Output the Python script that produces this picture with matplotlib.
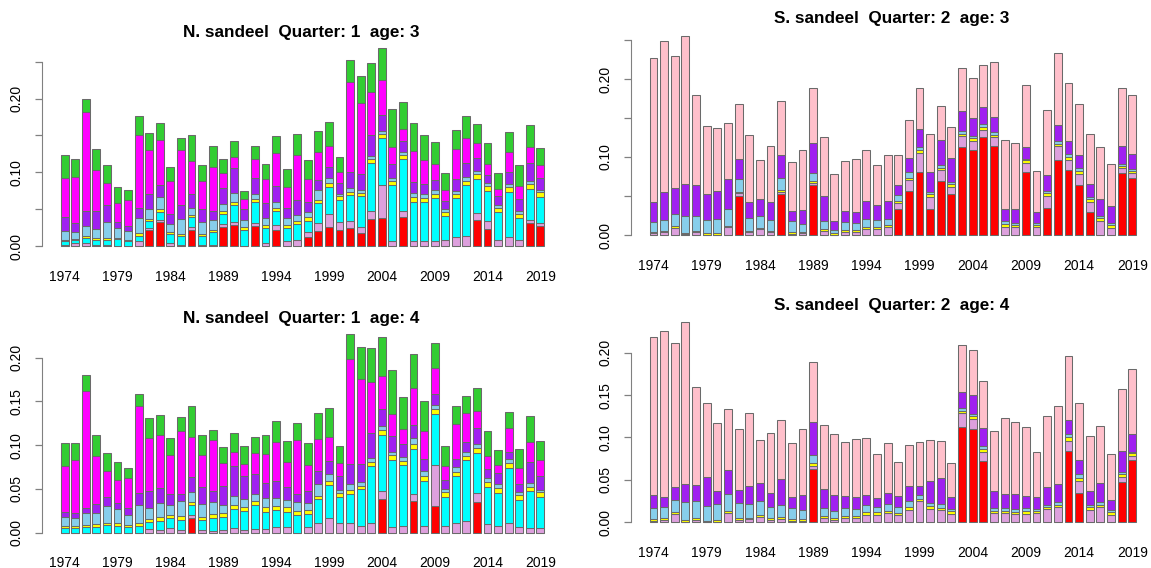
import matplotlib
matplotlib.use("Agg")
import matplotlib.pyplot as plt
import numpy as np

plt.rcParams["font.family"] = ["Liberation Sans", "DejaVu Sans"]

years = list(range(1974, 2020))
label_years = [1974, 1979, 1984, 1989, 1994, 1999, 2004, 2009, 2014, 2019]

# N. sandeel, quarter 1, age 3
n3_red = [0, 0, 0, 0, 0, 0, 0, 0, 0.0217, 0.0325, 0, 0, 0.0217, 0, 0, 0.026, 0.0285, 0, 0.027, 0, 0.0217, 0,
          0, 0.0127, 0.020, 0.0253, 0.0217, 0.024, 0.018, 0.036, 0.0375, 0, 0.040, 0, 0, 0, 0, 0, 0, 0.0348,
          0.0235, 0, 0, 0, 0.0307, 0.0267]
n3_plum = [0.002, 0.0036, 0.0036, 0.0014, 0.002, 0, 0, 0.0063, 0.003, 0.0027, 0.0045, 0.002, 0.0036, 0.002,
           0.0014, 0.0045, 0.0045, 0, 0.0045, 0.0045, 0.0063, 0.0068, 0.008, 0.0068, 0.011, 0.0176, 0.0113,
           0.010, 0.008, 0.011, 0.0447, 0.0063, 0.008, 0.0072, 0.0072, 0.0072, 0.0086, 0.0118, 0.0136, 0.0095,
           0.010, 0.008, 0.0118, 0.0077, 0.0045, 0.005]
n3_cyan = [0.0045, 0.0045, 0.0077, 0.0068, 0.0068, 0.009, 0.0068, 0.0072, 0.0095, 0.011, 0.012, 0.0118, 0.0136,
           0.0118, 0.017, 0.013, 0.0226, 0.0217, 0.028, 0.020, 0.019, 0.0176, 0.0217, 0.0145, 0.0267, 0.0366,
           0.029, 0.035, 0.0416, 0.065, 0.065, 0.076, 0.0696, 0.0524, 0.052, 0.058, 0.032, 0.053, 0.0687, 0.047,
           0.0416, 0.0375, 0.062, 0.030, 0.042, 0.035]
n3_yellow = [0.002, 0.002, 0.002, 0.002, 0.002, 0.002, 0.002, 0.0036, 0.0027, 0.0036, 0.003, 0.003, 0.003, 0.003,
             0.003, 0.0036, 0.0045, 0.004, 0.0036, 0.004, 0.004, 0.0036, 0.004, 0.005, 0.005, 0.0063, 0.0054,
             0.004, 0.0045, 0.0054, 0.0054, 0.0063, 0.0059, 0.0063, 0.0054, 0.0059, 0.0054, 0.0059, 0.0063,
             0.0063, 0.0063, 0.0059, 0.0063, 0.0059, 0.0063, 0.0059]
n3_sky = [0.012, 0.0095, 0.0136, 0.0127, 0.0217, 0.014, 0.0118, 0.021, 0.0136, 0.0163, 0.011, 0.0194, 0.010,
          0.0154, 0.014, 0.0104, 0.0113, 0.0095, 0.008, 0.0095, 0.009, 0.0095, 0.009, 0.0072, 0.0136, 0.0068,
          0.0036, 0.006, 0.0036, 0.005, 0.0036, 0.004, 0.0036, 0.0054, 0.006, 0.0045, 0.0036, 0.0045, 0.0045,
          0.0036, 0.0045, 0.0045, 0.0045, 0.0036, 0.0045, 0.0032]
n3_purple = [0.019, 0.012, 0.020, 0.0244, 0.023, 0.008, 0.0063, 0.013, 0.0194, 0.0167, 0.0127, 0.020, 0.018,
             0.0185, 0.0127, 0.0217, 0.034, 0.015, 0.0217, 0.020, 0.0212, 0.0145, 0.0194, 0.0136, 0.0136, 0.015,
             0.0145, 0.0217, 0.0217, 0.028, 0.0212, 0.018, 0.015, 0.0158, 0.0136, 0.0136, 0.011, 0.0154, 0.020,
             0.018, 0.011, 0.0118, 0.0163, 0.0163, 0.024, 0.0167]
n3_magenta = [0.053, 0.062, 0.135, 0.0556, 0.030, 0.026, 0.036, 0.100, 0.0606, 0.0606, 0.045, 0.0737, 0.045,
              0.0375, 0.0588, 0.020, 0.015, 0.013, 0.025, 0.0325, 0.0447, 0.0285, 0.061, 0.031, 0.0375, 0.028,
              0.0154, 0.1225, 0.096, 0.059, 0.0475, 0.0244, 0.0163, 0.042, 0.032, 0.0226, 0.015, 0.0407, 0.0335,
              0.020, 0.014, 0.009, 0.027, 0.0185, 0.022, 0.0176]
n3_green = [0.031, 0.024, 0.0176, 0.029, 0.024, 0.0217, 0.0136, 0.0258, 0.0235, 0.024, 0.0185, 0.016, 0.036,
            0.022, 0.029, 0.0185, 0.022, 0.012, 0.0185, 0.021, 0.0235, 0.024, 0.0285, 0.0258, 0.0285, 0.032,
            0.020, 0.0285, 0.037, 0.0384, 0.0443, 0.051, 0.037, 0.0384, 0.034, 0.029, 0.0235, 0.0258, 0.030,
            0.026, 0.0294, 0.0217, 0.027, 0.028, 0.030, 0.023]

# N. sandeel, quarter 1, age 4
n4_red = [0] * 12 + [0.0164] + [0] * 17 + [0.038, 0, 0, 0.0366, 0, 0.0305, 0, 0, 0, 0.0347] + [0] * 6
n4_plum = [0, 0, 0, 0, 0, 0, 0, 0, 0.0038, 0.003, 0.005, 0.003, 0.0038, 0.003, 0.0023, 0.003, 0.0053, 0.003,
           0.0038, 0.0042, 0.0069, 0.0069, 0, 0.006, 0.0114, 0.0171, 0.0107, 0.0107, 0.0076, 0.0107, 0.0091,
           0.006, 0.0076, 0.0076, 0.0072, 0.0465, 0.008, 0.0114, 0.0137, 0.0103, 0.0099, 0.0076, 0.0114, 0.0069,
           0.0053, 0.005]
n4_cyan = [0.0053, 0.0053, 0.006, 0.0069, 0.0088, 0.008, 0.006, 0.008, 0.008, 0.0107, 0.0114, 0.0114, 0.0114,
           0.0114, 0.0145, 0.0152, 0.0213, 0.022, 0.0278, 0.0198, 0.0187, 0.017, 0.020, 0.0152, 0.0267, 0.037,
           0.0297, 0.0335, 0.042, 0.0655, 0.065, 0.077, 0.0693, 0.052, 0.052, 0.0587, 0.033, 0.053, 0.069, 0.0465,
           0.042, 0.038, 0.062, 0.031, 0.042, 0.036]
n4_yellow = [0.0023, 0.0027, 0.0027, 0.0027, 0.0027, 0.0027, 0.0027, 0.0027, 0.0034, 0.0038, 0.0038, 0.0046,
             0.0038, 0.0038, 0.0046, 0.0046, 0.005, 0.0046, 0.0046, 0.005, 0.005, 0.005, 0.005, 0.0046, 0.0042,
             0.0053, 0.0046, 0.0046, 0.0042, 0.005, 0.005, 0.0053, 0.0053, 0.0057, 0.006, 0.0057, 0.005, 0.0053,
             0.0053, 0.0057, 0.0057, 0.0057, 0.0057, 0.0053, 0.0046, 0.0053]
n4_sky = [0.0107, 0.009, 0.014, 0.0133, 0.019, 0.016, 0.0118, 0.0206, 0.013, 0.0168, 0.0114, 0.0175, 0.0107,
          0.0145, 0.0133, 0.0088, 0.0107, 0.0084, 0.008, 0.0103, 0.0088, 0.009, 0.0103, 0.0076, 0.0133, 0.0076,
          0.0038, 0.0069, 0.0038, 0.0038, 0.0046, 0.0038, 0.0046, 0.0065, 0.005, 0.0046, 0.0034, 0.005, 0.0046,
          0.0046, 0.005, 0.0046, 0.0053, 0.0034, 0.0053, 0.003]
n4_purple = [0.005, 0.0053, 0.0057, 0.0103, 0.0103, 0.0069, 0.0072, 0.0137, 0.019, 0.0164, 0.0122, 0.0072, 0.017,
             0.019, 0.013, 0.0217, 0.034, 0.0267, 0.0225, 0.018, 0.020, 0.0145, 0.0095, 0.014, 0.0152, 0.0152,
             0.016, 0.0225, 0.0213, 0.0286, 0.020, 0.0187, 0.0145, 0.0152, 0.0145, 0.012, 0.0114, 0.009, 0.0107,
             0.018, 0.0103, 0.0118, 0.0084, 0.0095, 0.0236, 0.016]
n4_magenta = [0.053, 0.0613, 0.134, 0.055, 0.030, 0.0267, 0.035, 0.0994, 0.061, 0.061, 0.045, 0.0724, 0.046,
              0.037, 0.058, 0.026, 0.0156, 0.0133, 0.024, 0.033, 0.0446, 0.0286, 0.061, 0.0305, 0.0366, 0.0274,
              0.0145, 0.120, 0.097, 0.0587, 0.0377, 0.0244, 0.0168, 0.0423, 0.032, 0.0297, 0.0152, 0.040, 0.033,
              0.019, 0.0149, 0.0099, 0.0267, 0.018, 0.0229, 0.018]
n4_green = [0.0259, 0.019, 0.018, 0.0236, 0.0198, 0.021, 0.011, 0.0145, 0.023, 0.0229, 0.019, 0.0164, 0.0354,
            0.023, 0.0122, 0.019, 0.0225, 0.0213, 0.0187, 0.0217, 0.024, 0.0236, 0.020, 0.025, 0.029, 0.0324,
            0.0198, 0.0293, 0.036, 0.0385, 0.0442, 0.0507, 0.0366, 0.038, 0.034, 0.0293, 0.023, 0.021, 0.020,
            0.027, 0.0286, 0.0171, 0.0187, 0.022, 0.0297, 0.022]

# S. sandeel, quarter 2, age 3
s3_red = [0] * 8 + [0.050, 0, 0, 0, 0.052, 0, 0, 0.064] + [0] * 7 + [
    0.0332, 0.0558, 0.0814, 0.0332, 0.0694, 0.052, 0.1125, 0.109, 0.1252, 0.1146, 0, 0, 0.0805, 0, 0.035,
    0.0958, 0.0839, 0.0635, 0.029, 0, 0, 0.0792, 0.0737]
s3_plum = [0.002, 0.0034, 0.0094, 0.0009, 0.0034, 0, 0, 0.010, 0.0034, 0.0034, 0.0072, 0.0034, 0.0026, 0.0013,
           0.002, 0.003, 0.0055, 0, 0.0043, 0.0043, 0.0077, 0.0077, 0.0098, 0.0072, 0.0145, 0.0239, 0.0158,
           0.0136, 0.0094, 0.0145, 0.012, 0.0098, 0.0106, 0.0106, 0.0098, 0.012, 0.0098, 0.0149, 0.0183, 0.0128,
           0.0153, 0.0136, 0.0175, 0.0094, 0.0064, 0.0055]
s3_yellow = [0.0013, 0.002, 0.002, 0.002, 0.002, 0.002, 0.002, 0.002, 0.002, 0.002, 0.002, 0.002, 0.003, 0.002,
             0.002, 0.002, 0.0017, 0.002, 0.002, 0.002, 0.003, 0.003, 0.0026, 0.0034, 0.003, 0.0034, 0.0034,
             0.0034, 0.0034, 0.003, 0.0034, 0.0034, 0.0034, 0.0034, 0.003, 0.0034, 0.003, 0.0043, 0.003, 0.0034,
             0.0034, 0.0034, 0.0038, 0.0034, 0.003, 0.003]
s3_sky = [0.0136, 0.0136, 0.0149, 0.0209, 0.0192, 0.017, 0.0183, 0.0209, 0.017, 0.0158, 0.0153, 0.0136, 0.0149,
          0.0145, 0.0107, 0.0102, 0.0107, 0.0043, 0.0107, 0.0094, 0.0094, 0.0085, 0.0085, 0.0072, 0.0077, 0.0043,
          0.003, 0.0038, 0.0034, 0.003, 0.002, 0.0034, 0.0034, 0.0038, 0.003, 0.002, 0.003, 0.0026, 0.003,
          0.0034, 0.0038, 0.003, 0.003, 0.003, 0.0026, 0.0026]
s3_purple = [0.0251, 0.0358, 0.034, 0.0417, 0.040, 0.034, 0.0366, 0.039, 0.0247, 0.0217, 0.0213, 0.0239, 0.0307,
             0.0124, 0.0175, 0.0388, 0.0324, 0.0115, 0.014, 0.0132, 0.0239, 0.0187, 0.0226, 0.0132, 0.0175,
             0.0226, 0.026, 0.031, 0.0307, 0.0256, 0.023, 0.0222, 0.0187, 0.0158, 0.0179, 0.0145, 0.0136, 0.020,
             0.0209, 0.0166, 0.0162, 0.0158, 0.0213, 0.0213, 0.023, 0.0187]
s3_pink = [0.185, 0.194, 0.1687, 0.190, 0.1155, 0.0865, 0.080, 0.0716, 0.0711, 0.0848, 0.0507, 0.0716, 0.0686,
           0.0635, 0.077, 0.0707, 0.0754, 0.061, 0.0635, 0.069, 0.065, 0.052, 0.0588, 0.0388, 0.049, 0.0524,
           0.0486, 0.0439, 0.039, 0.055, 0.0524, 0.0545, 0.0711, 0.0878, 0.0843, 0.080, 0.0528, 0.083, 0.092,
           0.0754, 0.066, 0.0643, 0.0673, 0.054, 0.0746, 0.0763]

# S. sandeel, quarter 2, age 4
s4_red = [0] * 15 + [0.0629] + [0] * 13 + [0.1124, 0.1096, 0.0727] + [0] * 7 + [0.0841, 0.0346, 0, 0, 0,
                                                                                 0.0476, 0.0735]
s4_plum = [0.0016, 0.0031, 0.0098, 0.0008, 0.0031, 0, 0.0008, 0.0106, 0.0027, 0.0035, 0.0067, 0.0031, 0.004,
           0.002, 0.002, 0.0039, 0.0055, 0.0031, 0.0047, 0.0051, 0.009, 0.009, 0.011, 0.0083, 0.0149, 0.0248,
           0.0161, 0.0141, 0.0102, 0.0161, 0.0122, 0.0102, 0.011, 0.011, 0.0098, 0.0098, 0.0106, 0.0153, 0.0177,
           0.0122, 0.0145, 0.0145, 0.0177, 0.009, 0.0063, 0.0051]
s4_yellow = [0.002, 0.0016, 0.002, 0.002, 0.002, 0.002, 0.002, 0.0027, 0.002, 0.002, 0.002, 0.002, 0.002, 0.0016,
             0.002, 0.0027, 0.002, 0.0024, 0.0027, 0.0027, 0.0027, 0.0027, 0.0027, 0.0031, 0.0027, 0.0027,
             0.0031, 0.0031, 0.0027, 0.0031, 0.0035, 0.0035, 0.0027, 0.0027, 0.0027, 0.0031, 0.0024, 0.0027,
             0.0027, 0.0039, 0.0031, 0.0031, 0.0027, 0.0027, 0.0027, 0.0027]
s4_sky = [0.013, 0.0134, 0.0145, 0.0212, 0.020, 0.0177, 0.0185, 0.0197, 0.0185, 0.0157, 0.0165, 0.0134, 0.0145,
          0.013, 0.0106, 0.0098, 0.0098, 0.0083, 0.009, 0.0083, 0.0083, 0.0067, 0.0075, 0.0071, 0.0079, 0.005,
          0.0039, 0.0039, 0.0031, 0.0027, 0.0024, 0.0035, 0.0027, 0.0031, 0.0035, 0.0035, 0.0027, 0.0027, 0.0039,
          0.0039, 0.0043, 0.0027, 0.0039, 0.0027, 0.0027, 0.002]
s4_purple = [0.0157, 0.0122, 0.0157, 0.0212, 0.0189, 0.0334, 0.0157, 0.0283, 0.0149, 0.0216, 0.0216, 0.0157,
             0.0307, 0.0138, 0.0177, 0.039, 0.0216, 0.018, 0.015, 0.0134, 0.0126, 0.0098, 0.0134, 0.013, 0.0173,
             0.0098, 0.0255, 0.0307, 0.0138, 0.0189, 0.0224, 0.0216, 0.0204, 0.0169, 0.0177, 0.0149, 0.0138,
             0.0208, 0.0208, 0.0165, 0.0169, 0.0161, 0.022, 0.0118, 0.0244, 0.0204]
s4_pink = [0.1867, 0.1953, 0.170, 0.1906, 0.116, 0.0872, 0.080, 0.072, 0.0715, 0.0857, 0.0503, 0.0715, 0.0696,
           0.0637, 0.078, 0.0711, 0.0755, 0.072, 0.0637, 0.0688, 0.0664, 0.0523, 0.0593, 0.0397, 0.0487, 0.0527,
           0.0487, 0.044, 0.0397, 0.0554, 0.053, 0.0554, 0.0707, 0.0888, 0.0849, 0.081, 0.0538, 0.0837, 0.092,
           0.075, 0.0668, 0.0648, 0.0668, 0.0542, 0.0739, 0.0774]

RED, PLUM, CYAN, YELLOW = "#FF0000", "#DDA0DD", "#00FFFF", "#FFFF00"
SKY, PURPLE, MAGENTA, GREEN, PINK = "#87CEEB", "#A020F0", "#FF00FF", "#32CD32", "#FFC0CB"

W, H = 1151, 568
fig = plt.figure(figsize=(W / 100, H / 100), dpi=100)


def panel(spine_px, first_px, step_px, base_px, ppu, top_val, ticks, ticklabels):
    # axes placed in pixel units so bars line up with the spine and the year labels
    off = (first_px - spine_px) / step_px
    width_px = 45 * step_px + 2 * (first_px - spine_px)
    ax = fig.add_axes([spine_px / W, 1 - base_px / H, width_px / W, top_val * ppu / H])
    ax.set_xlim(1974 - off, 2019 + off)
    ax.set_ylim(0, top_val)
    for s in ("top", "right", "bottom"):
        ax.spines[s].set_visible(False)
    ax.spines["left"].set_bounds(ticks[0], ticks[-1])
    ax.spines["left"].set_color("#808080")
    ax.set_yticks(ticks)
    ax.set_yticklabels(ticklabels, rotation=90, va="center", fontsize=10)
    ax.tick_params(axis="y", length=5, width=0.9, color="#808080", pad=8)
    ax.set_xticks(label_years)
    ax.set_xticklabels([str(y) for y in label_years], fontsize=10)
    ax.tick_params(axis="x", length=0, pad=17)
    return ax


def stack(ax, layers):
    bottom = np.zeros(len(years))
    for vals, col in layers:
        vals = np.asarray(vals, dtype=float)
        ax.bar(years, vals, bottom=bottom, width=0.74, color=col, edgecolor="#6a6a6a",
               linewidth=0.75, clip_on=False)
        bottom += vals


t25 = [0, 0.05, 0.10, 0.15, 0.20, 0.25]
l25 = ["0.00", "", "0.10", "", "0.20", ""]
t20 = [0, 0.05, 0.10, 0.15, 0.20]
l20 = ["0.00", "0.05", "0.10", "0.15", "0.20"]

ax1 = panel(41.7, 64.7, 10.57, 246, 737, 0.28, t25, l25)
stack(ax1, [(n3_red, RED), (n3_plum, PLUM), (n3_cyan, CYAN), (n3_yellow, YELLOW), (n3_sky, SKY),
            (n3_purple, PURPLE), (n3_magenta, MAGENTA), (n3_green, GREEN)])

ax2 = panel(630.7, 653.5, 10.64, 235, 780, 0.26, t25, l25)
stack(ax2, [(s3_red, RED), (s3_plum, PLUM), (s3_yellow, YELLOW), (s3_sky, SKY),
            (s3_purple, PURPLE), (s3_pink, PINK)])

ax3 = panel(41.7, 64.7, 10.57, 532.7, 875, 0.235, t20, l20)
stack(ax3, [(n4_red, RED), (n4_plum, PLUM), (n4_cyan, CYAN), (n4_yellow, YELLOW), (n4_sky, SKY),
            (n4_purple, PURPLE), (n4_magenta, MAGENTA), (n4_green, GREEN)])

ax4 = panel(630.7, 653.5, 10.64, 522.3, 848, 0.24, t20, l20)
stack(ax4, [(s4_red, RED), (s4_plum, PLUM), (s4_yellow, YELLOW), (s4_sky, SKY),
            (s4_purple, PURPLE), (s4_pink, PINK)])

title_kw = dict(ha="center", va="center", fontsize=12.3, fontweight="bold")
fig.text(301 / W, 1 - 32 / H, "N. sandeel  Quarter: 1  age: 3", **title_kw)
fig.text(892 / W, 1 - 19 / H, "S. sandeel  Quarter: 2  age: 3", **title_kw)
fig.text(301 / W, 1 - 318 / H, "N. sandeel  Quarter: 1  age: 4", **title_kw)
fig.text(892 / W, 1 - 306 / H, "S. sandeel  Quarter: 2  age: 4", **title_kw)

fig.savefig("out.png", dpi=100, facecolor="white")
